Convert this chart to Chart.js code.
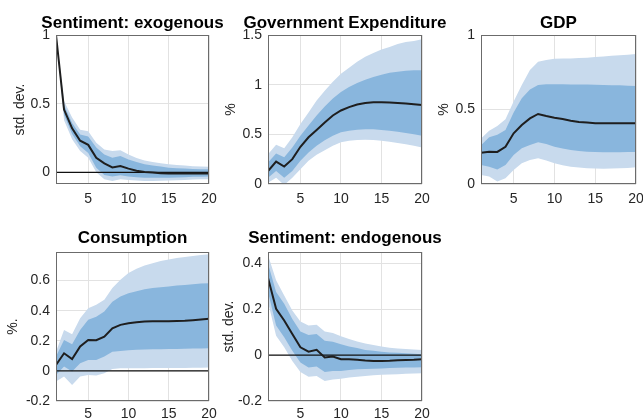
<!DOCTYPE html>
<html>
<head>
<meta charset="utf-8">
<script src="https://cdn.jsdelivr.net/npm/chart.js@4.4.1/dist/chart.umd.min.js"></script>
<style>
html, body { margin: 0; padding: 0; background: #fff; width: 643px; height: 420px; overflow: hidden; }
canvas { position: absolute; left: 0; top: 0; }
</style>
</head>
<body>
<canvas id="p1" width="700" height="440"></canvas>
<canvas id="p2" width="700" height="440"></canvas>
<canvas id="p3" width="700" height="440"></canvas>
<canvas id="p4" width="700" height="440"></canvas>
<canvas id="p5" width="700" height="440"></canvas>
<script>
// horizon and tick labels
const horizon = [1, 2, 3, 4, 5, 6, 7, 8, 9, 10, 11, 12, 13, 14, 15, 16, 17, 18, 19, 20];
const xTicks = [5, 10, 15, 20];
const zeroX = [1, 20];
const zeroY = [0, 0];

// Sentiment: exogenous
const exoMedian = [1.0, 0.457, 0.32, 0.23, 0.2, 0.106, 0.065, 0.036, 0.046, 0.027, 0.012, 0.003, -0.002, -0.006, -0.008, -0.008, -0.009, -0.009, -0.009, -0.009];
const exoHi68 = [1.0, 0.49, 0.36, 0.275, 0.26, 0.18, 0.13, 0.106, 0.118, 0.094, 0.075, 0.058, 0.05, 0.042, 0.034, 0.03, 0.027, 0.025, 0.023, 0.022];
const exoLo68 = [1.0, 0.42, 0.28, 0.19, 0.14, 0.034, -0.02, -0.03, -0.022, -0.031, -0.036, -0.039, -0.04, -0.04, -0.039, -0.037, -0.035, -0.033, -0.032, -0.031];
const exoHi90 = [1.0, 0.52, 0.40, 0.31, 0.30, 0.215, 0.167, 0.155, 0.16, 0.13, 0.105, 0.087, 0.076, 0.066, 0.058, 0.053, 0.049, 0.045, 0.043, 0.041];
const exoLo90 = [1.0, 0.38, 0.24, 0.155, 0.106, 0.0, -0.05, -0.063, -0.05, -0.055, -0.06, -0.063, -0.064, -0.062, -0.06, -0.058, -0.055, -0.053, -0.051, -0.05];
const exoYTicks = [0, 0.5, 1];

// Government Expenditure
const govMedian = [0.13, 0.226, 0.176, 0.25, 0.375, 0.47, 0.544, 0.62, 0.69, 0.74, 0.774, 0.80, 0.815, 0.822, 0.822, 0.82, 0.815, 0.81, 0.803, 0.794];
const govHi68 = [0.216, 0.307, 0.27, 0.368, 0.486, 0.59, 0.69, 0.78, 0.86, 0.926, 0.976, 1.017, 1.05, 1.078, 1.10, 1.12, 1.13, 1.14, 1.145, 1.145];
const govLo68 = [0.064, 0.13, 0.064, 0.13, 0.233, 0.318, 0.385, 0.44, 0.486, 0.52, 0.537, 0.547, 0.55, 0.55, 0.544, 0.537, 0.527, 0.513, 0.50, 0.486];
const govHi90 = [0.30, 0.395, 0.36, 0.47, 0.605, 0.72, 0.84, 0.94, 1.03, 1.11, 1.17, 1.23, 1.28, 1.32, 1.355, 1.38, 1.41, 1.43, 1.44, 1.456];
const govLo90 = [0.013, 0.064, -0.01, 0.064, 0.149, 0.233, 0.294, 0.34, 0.385, 0.42, 0.436, 0.443, 0.446, 0.443, 0.436, 0.426, 0.412, 0.40, 0.385, 0.368];
const govYTicks = [0, 0.5, 1, 1.5];

// GDP
const gdpMedian = [0.21, 0.217, 0.215, 0.25, 0.34, 0.396, 0.44, 0.47, 0.456, 0.445, 0.436, 0.425, 0.416, 0.412, 0.408, 0.407, 0.407, 0.407, 0.407, 0.407];
const gdpHi68 = [0.26, 0.313, 0.33, 0.362, 0.48, 0.575, 0.635, 0.664, 0.67, 0.67, 0.669, 0.668, 0.668, 0.667, 0.666, 0.664, 0.663, 0.662, 0.66, 0.658];
const gdpLo68 = [0.128, 0.116, 0.098, 0.128, 0.195, 0.24, 0.262, 0.28, 0.268, 0.25, 0.238, 0.228, 0.222, 0.217, 0.215, 0.213, 0.213, 0.213, 0.214, 0.215];
const gdpHi90 = [0.306, 0.358, 0.39, 0.434, 0.553, 0.664, 0.765, 0.82, 0.832, 0.84, 0.842, 0.843, 0.845, 0.848, 0.852, 0.855, 0.86, 0.864, 0.868, 0.872];
const gdpLo90 = [0.06, 0.05, 0.016, 0.038, 0.094, 0.139, 0.161, 0.172, 0.157, 0.139, 0.126, 0.116, 0.11, 0.105, 0.104, 0.103, 0.104, 0.105, 0.108, 0.112];
const gdpYTicks = [0, 0.5, 1];

// Consumption
const conMedian = [0.04, 0.117, 0.078, 0.162, 0.206, 0.204, 0.228, 0.283, 0.306, 0.317, 0.323, 0.328, 0.33, 0.33, 0.33, 0.331, 0.333, 0.337, 0.341, 0.346];
const conHi68 = [0.095, 0.206, 0.177, 0.272, 0.34, 0.36, 0.394, 0.46, 0.494, 0.516, 0.53, 0.543, 0.55, 0.556, 0.56, 0.567, 0.571, 0.576, 0.58, 0.582];
const conLo68 = [-0.027, 0.029, -0.004, 0.05, 0.073, 0.073, 0.095, 0.128, 0.133, 0.137, 0.14, 0.142, 0.144, 0.144, 0.145, 0.146, 0.147, 0.148, 0.149, 0.15];
const conHi90 = [0.128, 0.272, 0.244, 0.35, 0.416, 0.44, 0.472, 0.55, 0.605, 0.65, 0.678, 0.70, 0.715, 0.73, 0.74, 0.75, 0.757, 0.764, 0.77, 0.775];
const conLo90 = [-0.07, -0.038, -0.093, -0.038, -0.027, -0.031, -0.015, 0.013, 0.018, 0.018, 0.018, 0.018, 0.019, 0.019, 0.019, 0.02, 0.02, 0.021, 0.021, 0.022];
const conYTicks = [-0.2, 0, 0.2, 0.4, 0.6];

// Sentiment: endogenous
const endoMedian = [0.337, 0.202, 0.151, 0.092, 0.034, 0.015, 0.023, -0.01, -0.006, -0.018, -0.018, -0.02, -0.023, -0.025, -0.025, -0.024, -0.022, -0.021, -0.02, -0.018];
const endoHi68 = [0.40, 0.276, 0.224, 0.158, 0.103, 0.088, 0.092, 0.063, 0.059, 0.048, 0.038, 0.031, 0.023, 0.019, 0.015, 0.012, 0.01, 0.008, 0.006, 0.004];
const endoLo68 = [0.276, 0.129, 0.078, 0.019, -0.032, -0.054, -0.05, -0.073, -0.069, -0.069, -0.065, -0.062, -0.06, -0.059, -0.058, -0.056, -0.055, -0.054, -0.054, -0.053];
const endoHi90 = [0.437, 0.327, 0.26, 0.195, 0.147, 0.129, 0.133, 0.103, 0.097, 0.082, 0.07, 0.06, 0.051, 0.044, 0.038, 0.032, 0.029, 0.027, 0.025, 0.023];
const endoLo90 = [0.232, 0.085, 0.034, -0.025, -0.073, -0.094, -0.091, -0.113, -0.106, -0.103, -0.098, -0.094, -0.091, -0.088, -0.086, -0.084, -0.083, -0.081, -0.08, -0.079];
const endoYTicks = [-0.2, 0, 0.2, 0.4];

const colors = {
    band90: 'rgb(200, 218, 237)',
    band68: 'rgb(137, 182, 221)',
    median: '#1e1e1e',
    zero: '#111111',
    grid: '#e2e2e2',
    box: '#6b6b6b',
    text: '#262626'
};

Chart.defaults.font.family = "'Liberation Sans', Arial, sans-serif";
Chart.defaults.font.size = 14;
Chart.defaults.color = colors.text;

const CW = 700, CH = 440;

// title centred over the plot area, allowed to spill past it
const panelTitle = {
    id: 'panelTitle',
    afterDraw(chart, args, opts) {
        const a = chart.chartArea;
        const ctx = chart.ctx;
        ctx.save();
        ctx.font = "bold 17px 'Liberation Sans', Arial, sans-serif";
        ctx.fillStyle = '#000';
        ctx.textAlign = 'center';
        ctx.textBaseline = 'alphabetic';
        ctx.fillText(opts.text, (a.left + a.right) / 2, opts.baseline);
        ctx.restore();
    }
};

// box round the axes
const axesBox = {
    id: 'axesBox',
    afterDraw(chart) {
        const a = chart.chartArea;
        const ctx = chart.ctx;
        ctx.save();
        ctx.strokeStyle = colors.box;
        ctx.lineWidth = 1;
        ctx.strokeRect(Math.round(a.left) + 0.5, Math.round(a.top) + 0.5,
            Math.round(a.right - a.left) - 1, Math.round(a.bottom - a.top) - 1);
        ctx.restore();
    }
};

function pts(ys) {
    return horizon.map(function (h, i) { return {x: h, y: ys[i]}; });
}

function band(ys, order, color, fill) {
    return {
        data: pts(ys),
        borderWidth: 0,
        borderColor: 'rgba(0,0,0,0)',
        backgroundColor: color,
        pointRadius: 0,
        fill: fill ? '+1' : false,
        order: order,
        tension: 0
    };
}

function render_panel(id, p) {
    const datasets = [
        band(p.hi90, 5, colors.band90, true),
        band(p.lo90, 5, colors.band90, false),
        band(p.hi68, 4, colors.band68, true),
        band(p.lo68, 4, colors.band68, false)
    ];
    if (p.zero) {
        datasets.push({
            data: zeroX.map(function (x, i) { return {x: x, y: zeroY[i]}; }),
            borderColor: colors.zero,
            borderWidth: 1.3,
            pointRadius: 0,
            fill: false,
            order: 2
        });
    }
    datasets.push({
        data: pts(p.median),
        borderColor: colors.median,
        borderWidth: 2,
        pointRadius: 0,
        fill: false,
        order: 1,
        tension: 0
    });

    new Chart(document.getElementById(id), {
        type: 'line',
        data: {datasets: datasets},
        options: {
            responsive: false,
            animation: false,
            events: [],
            layout: {
                padding: {
                    left: p.axisLeft,
                    top: p.top,
                    right: CW - p.right,
                    bottom: CH - p.bottom - 20
                }
            },
            plugins: {
                legend: {display: false},
                tooltip: {enabled: false},
                panelTitle: {text: p.title, baseline: p.titleBaseline}
            },
            scales: {
                x: {
                    type: 'linear',
                    min: 1,
                    max: 20,
                    afterBuildTicks: function (scale) {
                        scale.ticks = xTicks.map(function (v) { return {value: v}; });
                    },
                    afterFit: function (scale) { scale.height = 20; },
                    ticks: {
                        autoSkip: false,
                        maxRotation: 0,
                        padding: p.xPad,
                        callback: function (v) { return String(v); }
                    },
                    grid: {color: colors.grid, drawTicks: false},
                    border: {display: false}
                },
                y: {
                    min: p.ymin,
                    max: p.ymax,
                    afterBuildTicks: function (scale) {
                        scale.ticks = p.yTicks.map(function (v) { return {value: v}; });
                    },
                    afterFit: function (scale) { scale.width = p.left - p.axisLeft; },
                    ticks: {
                        autoSkip: false,
                        padding: 6,
                        callback: function (v) { return String(v); }
                    },
                    title: {
                        display: true,
                        text: p.ylabel,
                        padding: {top: 0, bottom: 0},
                        font: {size: 14}
                    },
                    grid: {color: colors.grid, drawTicks: false},
                    border: {display: false}
                }
            }
        },
        plugins: [panelTitle, axesBox]
    });
}

render_panel('p1', {
    title: 'Sentiment: exogenous', titleBaseline: 28, ylabel: 'std. dev.',
    median: exoMedian, hi68: exoHi68, lo68: exoLo68, hi90: exoHi90, lo90: exoLo90,
    yTicks: exoYTicks, ymin: -0.085, ymax: 1, zero: true,
    axisLeft: 11.6, left: 56, right: 209, top: 35, bottom: 184, xPad: 7
});
render_panel('p2', {
    title: 'Government Expenditure', titleBaseline: 28, ylabel: '%',
    median: govMedian, hi68: govHi68, lo68: govLo68, hi90: govHi90, lo90: govLo90,
    yTicks: govYTicks, ymin: 0, ymax: 1.5, zero: false,
    axisLeft: 222.6, left: 268, right: 422, top: 35, bottom: 184, xPad: 7
});
render_panel('p3', {
    title: 'GDP', titleBaseline: 28, ylabel: '%',
    median: gdpMedian, hi68: gdpHi68, lo68: gdpLo68, hi90: gdpHi90, lo90: gdpLo90,
    yTicks: gdpYTicks, ymin: 0, ymax: 1, zero: false,
    axisLeft: 436, left: 481, right: 636, top: 35, bottom: 184, xPad: 7
});
render_panel('p4', {
    title: 'Consumption', titleBaseline: 243, ylabel: '%.',
    median: conMedian, hi68: conHi68, lo68: conLo68, hi90: conHi90, lo90: conLo90,
    yTicks: conYTicks, ymin: -0.2, ymax: 0.79, zero: true,
    axisLeft: 4.6, left: 56, right: 209, top: 252, bottom: 401, xPad: 5
});
render_panel('p5', {
    title: 'Sentiment: endogenous', titleBaseline: 243, ylabel: 'std. dev.',
    median: endoMedian, hi68: endoHi68, lo68: endoLo68, hi90: endoHi90, lo90: endoLo90,
    yTicks: endoYTicks, ymin: -0.2, ymax: 0.45, zero: true,
    axisLeft: 220.6, left: 268, right: 422, top: 252, bottom: 401, xPad: 5
});
</script>
</body>
</html>
